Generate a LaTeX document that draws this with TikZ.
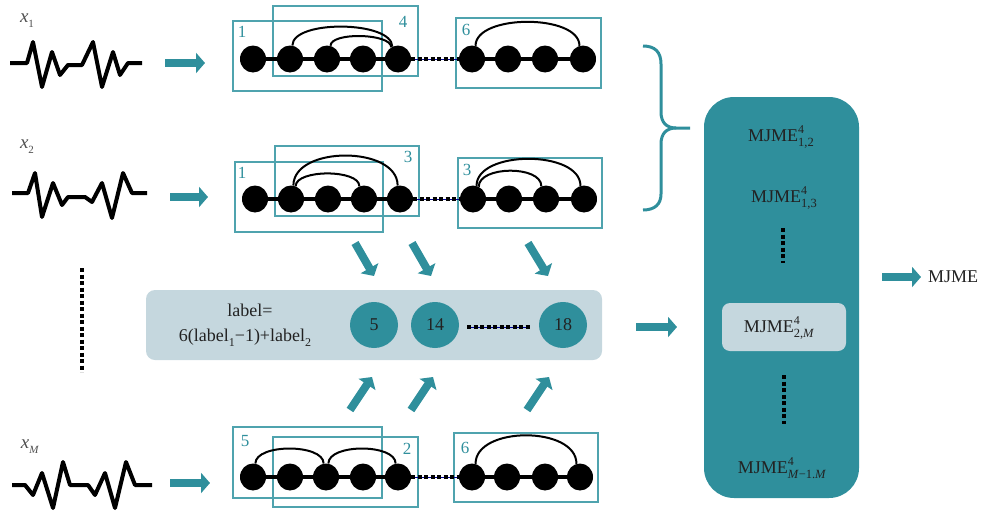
\documentclass[tikz,border=0pt]{standalone}
\usepackage{fontspec}
\setmainfont{Liberation Serif}
\usetikzlibrary{arrows.meta,shapes.geometric,calc}

\definecolor{tealA}{HTML}{2F8F9C}
\definecolor{frameA}{HTML}{4FA3AE}
\definecolor{panelA}{HTML}{C5D7DE}
\definecolor{inkA}{HTML}{222222}

% MJME with stacked superscript 4 and a subscript pair
\newcommand\mjme[1]{MJME\rlap{\raisebox{1.0ex}{\fontsize{12}{12}\selectfont 4}}\raisebox{-0.65ex}{\fontsize{12.5}{12.5}\selectfont #1}}
\newcommand\sig[1]{\textit{x}\raisebox{-0.6ex}{\fontsize{11}{11}\selectfont #1}}
\newcommand\lsub[1]{\raisebox{-0.55ex}{\fontsize{12}{12}\selectfont #1}}

\tikzset{
  bead/.style={ellipse, fill=black, minimum width=26pt, minimum height=27pt, inner sep=0pt},
  chainline/.style={line width=3.5pt},
  arcline/.style={line width=2pt},
  winbox/.style={draw=frameA, line width=1.4pt},
  winnum/.style={text=tealA, font=\fontsize{17}{17}\selectfont, inner sep=0pt},
  flow/.style={draw=tealA, line width=8pt, -{Triangle[width=20pt,length=9pt]}},
  wave/.style={line width=4pt, line join=round},
  gapline/.style={line width=4pt, dash pattern=on 4pt off 2.5pt},
  gapthin/.style={draw=blue!60!black, line width=0.6pt},
  bigtxt/.style={font=\fontsize{18}{20}\selectfont, text=inkA, inner sep=0pt},
  sigtxt/.style={font=\fontsize{19}{19}\selectfont, text=inkA!80, inner sep=0pt},
  labcirc/.style={ellipse, fill=tealA, minimum width=48pt, minimum height=46pt, inner sep=0pt,
                  font=\fontsize{18}{20}\selectfont, text=inkA}
}

\begin{document}
\begin{tikzpicture}[x=1pt,y=-1pt]
\useasboundingbox (0,0) rectangle (984,514);

% ---------- signals ----------
\node[sigtxt] (s1) at (27,21) {\sig{1}};
\node[sigtxt] (s2) at (27,147) {\sig{2}};
\node[sigtxt] (s3) at (30,447) {\sig{\textit{M}}};

\draw[wave] (10,63)--(27,63)--(33,42)--(42,87)--(52,52)--(60,75)--(68,65)--(82,65)--(93,42)--(102,87)--(113,52)--(120,75)--(128,63)--(142,63);
\draw[wave] (12,193)--(28,193)--(35,173)--(42,217)--(53,183)--(62,205)--(68,197)--(85,197)--(92,202)--(102,183)--(112,218)--(123,173)--(132,193)--(147,193);
\draw[wave] (12,485)--(25,485)--(33,495)--(42,473)--(53,508)--(63,462)--(70,485)--(88,485)--(95,495)--(105,473)--(115,508)--(126,462)--(135,485)--(152,485);

\draw[gapline] (82,268) -- (82,372);

% ---------- flow arrows into the windows ----------
\coordinate (a1s) at (165,63);  \coordinate (a1e) at (205,63);
\coordinate (a2s) at (170,197); \coordinate (a2e) at (208,197);
\coordinate (a3s) at (170,483); \coordinate (a3e) at (210,483);
\draw[flow] (a1s) -- (a1e);
\draw[flow] (a2s) -- (a2e);
\draw[flow] (a3s) -- (a3e);

% ---------- window frames ----------
\node[winbox, minimum width=149pt, minimum height=70pt] (w1a) at (307.5,56) {};
\node[winbox, minimum width=145pt, minimum height=70pt] (w1b) at (345.5,41) {};
\node[winbox, minimum width=145pt, minimum height=70pt] (w1c) at (528.5,53) {};
\node[winnum] at (242,32) {1};
\node[winnum] at (403,22) {4};
\node[winnum] at (466,30) {6};

\node[winbox, minimum width=148pt, minimum height=70pt] (w2a) at (309,197) {};
\node[winbox, minimum width=144pt, minimum height=70pt] (w2b) at (347,181) {};
\node[winbox, minimum width=144pt, minimum height=70pt] (w2c) at (530,193) {};
\node[winnum] at (242,173) {1};
\node[winnum] at (408,157) {3};
\node[winnum] at (467,170) {3};

\node[winbox, minimum width=149pt, minimum height=71pt] (w3a) at (307.5,462.5) {};
\node[winbox, minimum width=145pt, minimum height=70pt] (w3b) at (345.5,472) {};
\node[winbox, minimum width=144pt, minimum height=69pt] (w3c) at (526,467.5) {};
\node[winnum] at (245,441) {5};
\node[winnum] at (407,449) {2};
\node[winnum] at (465,448) {6};

% ---------- bead chains ----------
% row 1
\foreach \n/\x in {a/253,b/290,c/327,d/363,e/398} \node[bead] (r1\n) at (\x,59) {};
\foreach \n/\x in {f/472,g/508,h/545,i/583} \node[bead] (r1\n) at (\x,59) {};
% row 2
\foreach \n/\x in {a/255,b/291,c/328,d/364,e/400} \node[bead] (r2\n) at (\x,199) {};
\foreach \n/\x in {f/473,g/509,h/546,i/584} \node[bead] (r2\n) at (\x,199) {};
% row 3
\foreach \n/\x in {a/253,b/290,c/326,d/363,e/398} \node[bead] (r3\n) at (\x,477) {};
\foreach \n/\x in {f/472,g/507,h/545,i/580} \node[bead] (r3\n) at (\x,477) {};

\foreach \r in {1,2,3}{
  \draw[chainline] (r\r a) -- (r\r b) -- (r\r c) -- (r\r d) -- (r\r e);
  \draw[chainline] (r\r f) -- (r\r g) -- (r\r h) -- (r\r i);
  \draw[gapthin] (r\r e.east) -- (r\r f.west);
  \draw[gapline] (r\r e.east) -- (r\r f.west);
}

% arcs (coupled pairs)
\draw[arcline] (r1b.80) .. controls +(0,-26) and +(0,-26) .. (r1e.115);
\draw[arcline] (r1c.75) .. controls +(0,-14) and +(0,-14) .. (r1e.120);
\draw[arcline] (r1f.75) .. controls +(0,-32) and +(0,-32) .. (r1i.105);

\draw[arcline] (r2b.80) .. controls +(0,-40) and +(0,-40) .. (r2e.100);
\draw[arcline] (r2b.70) .. controls +(0,-17) and +(0,-17) .. (r2d.110);
\draw[arcline] (r2f.75) .. controls +(0,-36) and +(0,-36) .. (r2i.105);
\draw[arcline] (r2f.65) .. controls +(0,-21) and +(0,-21) .. (r2h.110);

\draw[arcline] (r3a.80) .. controls +(0,-20) and +(0,-20) .. (r3c.100);
\draw[arcline] (r3c.80) .. controls +(0,-20) and +(0,-20) .. (r3e.100);
\draw[arcline] (r3f.75) .. controls +(0,-38) and +(0,-38) .. (r3i.105);

% ---------- label panel ----------
\node[fill=panelA, rounded corners=9pt, minimum width=456pt, minimum height=70pt, inner sep=0pt] (pan) at (374,325) {};
\node[bigtxt] (lt1) at (250,310) {label=};
\node[bigtxt] (lt2) at (245,338) {6(label\lsub{1}−1)+label\lsub{2}};
\node[labcirc] (c5) at (374,325) {5};
\node[labcirc] (c14) at (435,325) {14};
\node[labcirc] (c18) at (563,325) {18};
\coordinate (dl) at (467,327); \coordinate (dr) at (530,327);
\draw[gapthin] (dl) -- (dr);
\draw[gapline] (dl) -- (dr);

% arrows from windows into the panel
\coordinate (d1s) at (355,243); \coordinate (d1e) at (374,276);
\coordinate (d2s) at (412,243); \coordinate (d2e) at (431,276);
\coordinate (d3s) at (528,243); \coordinate (d3e) at (548,276);
\draw[flow] (d1s) -- (d1e);
\draw[flow] (d2s) -- (d2e);
\draw[flow] (d3s) -- (d3e);
\coordinate (u1s) at (350,410); \coordinate (u1e) at (372,377);
\coordinate (u2s) at (411,410); \coordinate (u2e) at (433,377);
\coordinate (u3s) at (527,410); \coordinate (u3e) at (549,377);
\draw[flow] (u1s) -- (u1e);
\draw[flow] (u2s) -- (u2e);
\draw[flow] (u3s) -- (u3e);

% ---------- brace ----------
\draw[tealA, line width=3pt]
  (643,46) .. controls (655,46) and (661,52) .. (661,64) -- (661,112)
  .. controls (661,122) and (666,128) .. (676,128) -- (690,128);
\draw[tealA, line width=3pt]
  (676,128) .. controls (666,128) and (661,134) .. (661,144) -- (661,194)
  .. controls (661,204) and (655,210) .. (643,210);

% ---------- MJME column ----------
\node[fill=tealA, rounded corners=30pt, minimum width=155pt, minimum height=401pt, inner sep=0pt] (big) at (781.5,297.5) {};
\node[bigtxt] (m12) at (781,137) {\mjme{1,2}};
\node[bigtxt] (m13) at (784,198) {\mjme{1,3}};
\node[fill=panelA, rounded corners=8pt, minimum width=124pt, minimum height=48pt, inner sep=0pt] (hl) at (784,327) {};
\node[bigtxt] (m2M) at (779,328) {\mjme{2,\textit{M}}};
\node[bigtxt] (mMM) at (782,468) {\mjme{\textit{M}−1.\textit{M}}};
\coordinate (v1t) at (783,228); \coordinate (v1b) at (783,263);
\coordinate (v2t) at (784,375); \coordinate (v2b) at (784,424);
\draw[gapline] (v1t) -- (v1b);
\draw[gapline] (v2t) -- (v2b);

\coordinate (p1s) at (636,327); \coordinate (p1e) at (677,327);
\draw[flow] (p1s) -- (p1e);

\node[bigtxt, anchor=west] (out) at (928,277) {MJME};
\coordinate (o1s) at (882,277);
\draw[flow] (o1s) -- ($(out.west)+(-7,0)$);
\end{tikzpicture}
\end{document}
